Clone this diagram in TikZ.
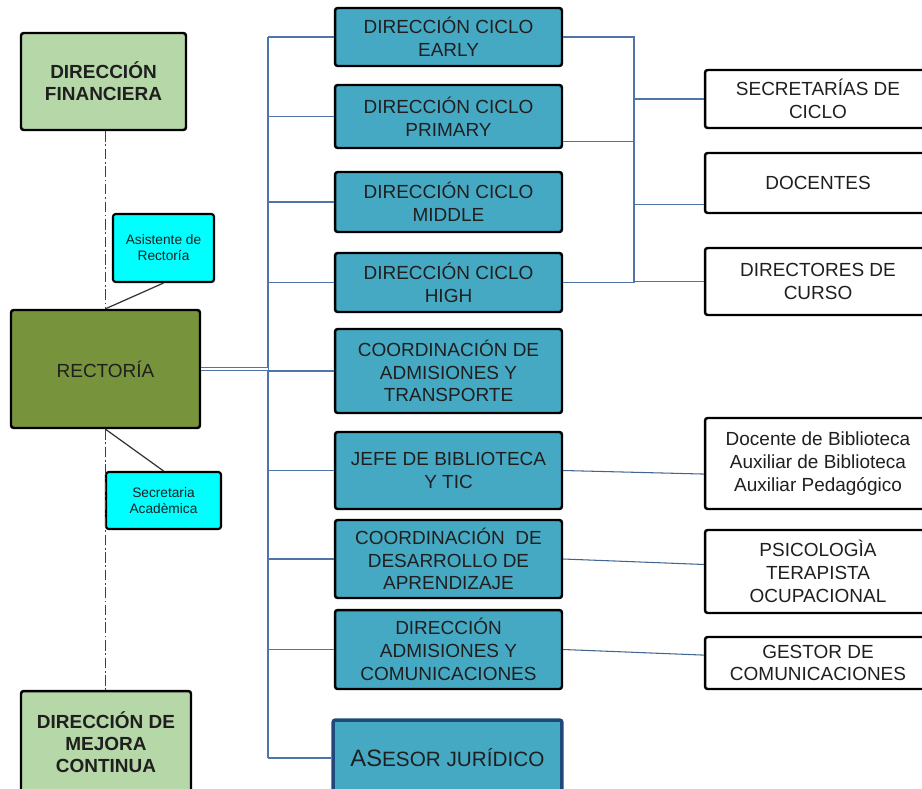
\documentclass[tikz,border=0pt]{standalone}
\usepackage{fontspec}
\setmainfont{Liberation Sans}

\definecolor{verdeclaro}{HTML}{B6D7A8}
\definecolor{verdeoliva}{HTML}{77933C}
\definecolor{cian}{HTML}{00FFFF}
\definecolor{azulcaja}{HTML}{46A9C4}
\definecolor{azullinea}{HTML}{4F74A8}
\definecolor{azulborde}{HTML}{1F497D}

\tikzset{
	caja/.style={draw=black, line width=1.4pt, rounded corners=1.5pt, align=center, inner sep=1pt,
		text=black!88, font=\fontsize{10.8}{13}\selectfont},
	verde/.style={caja, fill=verdeclaro, font=\fontsize{10.8}{12.5}\selectfont\bfseries},
	olivo/.style={caja, fill=verdeoliva},
	asistente/.style={caja, line width=1.2pt, fill=cian, font=\fontsize{7.8}{9}\selectfont},
	direccion/.style={caja, fill=azulcaja},
	cargo/.style={caja, fill=white, minimum width=4.52cm},
	enlace/.style={draw=azullinea, line width=0.6pt},
	enlacebajo/.style={draw=azulborde!85, line width=0.6pt},
	punteada/.style={draw=black!75, line width=0.7pt, dash pattern=on 6pt off 1.5pt on 1pt off 1.5pt},
}

\begin{document}
\begin{tikzpicture}[x=0.02cm, y=-0.02cm]
	\useasboundingbox (0,0) rectangle (922,788);

	% left column
	\node[verde, minimum width=3.3cm, minimum height=1.94cm] (financiera) at (103.5,81.5) {DIRECCIÓN\\FINANCIERA};
	\node[olivo, minimum width=3.78cm, minimum height=2.36cm] (rectoria) at (105.5,369) {RECTORÍA};
	\node[verde, minimum width=3.4cm, minimum height=2.04cm] (mejora) at (106,742) {DIRECCIÓN DE\\MEJORA\\CONTINUA};
	\node[asistente, minimum width=2.02cm, minimum height=1.36cm] (asistente) at (163.5,248) {Asistente de\\Rectoría};
	\node[asistente, minimum width=2.3cm, minimum height=1.14cm] (secretaria) at (163.5,500.5) {Secretaria\\Acadèmica};

	% dash-dot axis and staff links
	\draw[punteada] (financiera.south -| rectoria.north) -- (rectoria.north);
	\draw[punteada] (rectoria.south) -- (mejora.north -| rectoria.south);
	\draw[black!80, line width=0.7pt] (asistente.south) -- (rectoria.north);
	\draw[black!80, line width=0.7pt] (rectoria.south) -- (secretaria.north);

	% middle column
	\node[direccion, minimum width=4.54cm, minimum height=1.16cm] (early) at (448.5,37) {DIRECCIÓN CICLO\\EARLY};
	\node[direccion, minimum width=4.54cm, minimum height=1.26cm] (primary) at (448.5,116.5) {DIRECCIÓN CICLO\\PRIMARY};
	\node[direccion, minimum width=4.54cm, minimum height=1.2cm] (middle) at (448.5,202) {DIRECCIÓN CICLO\\MIDDLE};
	\node[direccion, minimum width=4.54cm, minimum height=1.18cm] (high) at (448.5,282.5) {DIRECCIÓN CICLO\\HIGH};
	\node[direccion, minimum width=4.54cm, minimum height=1.68cm] (transporte) at (448.5,371) {COORDINACIÓN DE\\ADMISIONES Y\\TRANSPORTE};
	\node[direccion, minimum width=4.54cm, minimum height=1.54cm] (biblioteca) at (448.5,470.5) {JEFE DE BIBLIOTECA\\Y TIC};
	\node[direccion, minimum width=4.54cm, minimum height=1.56cm] (desarrollo) at (448.5,559) {COORDINACIÓN\ \ DE\\DESARROLLO DE\\APRENDIZAJE};
	\node[direccion, minimum width=4.54cm, minimum height=1.58cm] (comunicaciones) at (448.5,649.5) {DIRECCIÓN\\ADMISIONES Y\\COMUNICACIONES};
	\node[direccion, draw=azulborde, line width=2pt, minimum width=4.58cm, minimum height=1.52cm] (juridico) at (447.5,758)
		{{\fontsize{13.5}{15}\selectfont AS}{\fontsize{11.8}{14}\selectfont ESOR JURÍDICO}};

	% left bus
	\coordinate (busizq) at (268,37);
	\draw[enlace] (early.west -| busizq) -- (juridico.west -| busizq);
	\foreach \n in {early,primary,middle,high,transporte,biblioteca,desarrollo,comunicaciones,juridico}{
		\draw[enlace] (\n.west) -- (\n.west -| busizq);
	}
	\draw[enlace, double=white, double distance=1.6pt] (rectoria.east) -- (rectoria.east -| busizq);

	% right column
	\node[cargo, minimum height=1.16cm] (secretarias) at (818,99) {SECRETARÍAS DE\\CICLO};
	\node[cargo, minimum height=1.2cm] (docentes) at (818,183) {DOCENTES};
	\node[cargo, minimum height=1.34cm] (directores) at (818,281.5) {DIRECTORES DE\\CURSO};
	\node[cargo, minimum height=1.82cm] (auxiliares) at (818,463.5) {Docente de Biblioteca\\Auxiliar de Biblioteca\\Auxiliar Pedagógico};
	\node[cargo, minimum height=1.66cm] (psicologia) at (818,571.5) {PSICOLOGÌA\\TERAPISTA\\OCUPACIONAL};
	\node[cargo, minimum height=1.04cm] (gestor) at (818,663) {GESTOR DE\\COMUNICACIONES};

	% right bus
	\coordinate (busder) at (634,37);
	\coordinate (primout) at ([yshift=-14pt]primary.east);
	\coordinate (docin) at ([yshift=-12pt]docentes.west);
	\draw[enlace] (early.east) -- (early.east -| busder) -- (high.east -| busder);
	\draw[enlace] (primout) -- (primout -| busder);
	\draw[enlace] (high.east) -- (high.east -| busder);
	\draw[enlace] (secretarias.west -| busder) -- (secretarias.west);
	\draw[enlace] (docin -| busder) -- (docin);
	\draw[enlace] (directores.west -| busder) -- (directores.west);

	% single links
	\coordinate (auxin) at ([yshift=-6pt]auxiliares.west);
	\coordinate (psicin) at ([yshift=4pt]psicologia.west);
	\coordinate (gestin) at ([yshift=4.5pt]gestor.west);
	\draw[enlacebajo] (biblioteca.east) -- (auxin);
	\draw[enlacebajo] (desarrollo.east) -- (psicin);
	\draw[enlacebajo] (comunicaciones.east) -- (gestin);
\end{tikzpicture}
\end{document}
